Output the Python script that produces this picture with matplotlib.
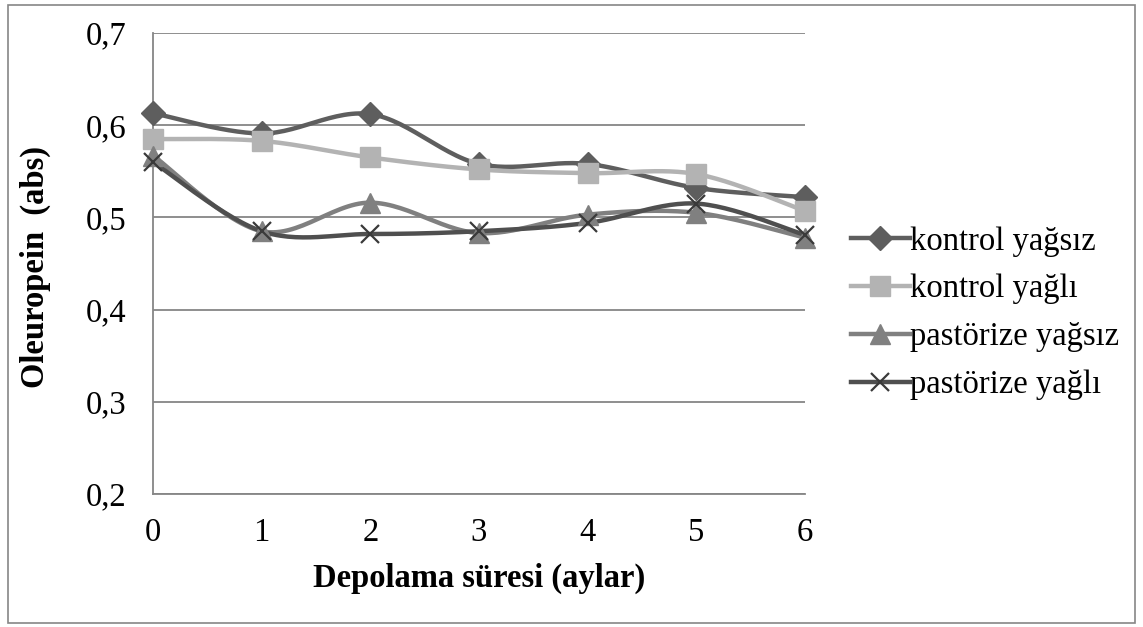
import numpy as np
import matplotlib
matplotlib.use("Agg")
import matplotlib.pyplot as plt
from matplotlib.lines import Line2D
from matplotlib.patches import Rectangle

plt.rcParams['font.family'] = ['Liberation Serif', 'DejaVu Serif']

months = [0, 1, 2, 3, 4, 5, 6]
kontrol_yagsiz = [0.613, 0.591, 0.612, 0.558, 0.558, 0.532, 0.522]
kontrol_yagli = [0.585, 0.583, 0.565, 0.552, 0.548, 0.547, 0.507]
pastorize_yagsiz = [0.567, 0.485, 0.516, 0.483, 0.503, 0.505, 0.478]
pastorize_yagli = [0.560, 0.485, 0.482, 0.485, 0.494, 0.515, 0.481]
series_names = ["kontrol yağsız", "kontrol yağlı", "pastörize yağsız", "pastörize yağlı"]
yticks = [0.2, 0.3, 0.4, 0.5, 0.6, 0.7]
ytick_labels = ["0,2", "0,3", "0,4", "0,5", "0,6", "0,7"]

colors = ["#5e5e5e", "#b3b3b3", "#808080", "#4f4f4f"]
markers = ["D", "s", "^", "x"]
msizes = [12.5, 14, 14, 13]
FS = 23.5


def smooth(x, y, n=30):
    x = np.asarray(x, float)
    y = np.asarray(y, float)
    pts = np.column_stack([x, y])
    out = []
    for i in range(len(pts) - 1):
        p0 = pts[i - 1] if i > 0 else pts[i]
        p1 = pts[i]
        p2 = pts[i + 1]
        p3 = pts[i + 2] if i + 2 < len(pts) else pts[i + 1]
        c1 = p1 + (p2 - p0) / 6.0
        c2 = p2 - (p3 - p1) / 6.0
        t = np.linspace(0, 1, n)[:, None]
        seg = ((1 - t) ** 3) * p1 + 3 * ((1 - t) ** 2) * t * c1 + 3 * (1 - t) * t ** 2 * c2 + t ** 3 * p2
        if i > 0:
            seg = seg[1:]
        out.append(seg)
    out = np.vstack(out)
    return out[:, 0], out[:, 1]


fig = plt.figure(figsize=(11.43, 6.27), dpi=100)
fig.patches.append(Rectangle((8 / 1143, 4 / 627), 1127 / 1143, 618 / 627,
                             transform=fig.transFigure, fill=False,
                             edgecolor="#868686", linewidth=1.2))
ax = fig.add_axes([153 / 1143, 1 - 494 / 627, (805 - 153) / 1143, (494 - 33) / 627])

data = [kontrol_yagsiz, kontrol_yagli, pastorize_yagsiz, pastorize_yagli]
handles = []
for vals, c, m, ms, name in zip(data, colors, markers, msizes, series_names):
    sx, sy = smooth(months, vals)
    ax.plot(sx, sy, color=c, lw=3.2, solid_capstyle="round", zorder=3, clip_on=False)
    if m == "x":
        ax.plot(months, vals, linestyle="none", marker=m, ms=ms, mew=1.6,
                color="#3a3a3a", zorder=4, clip_on=False)
        h = Line2D([], [], color=c, lw=3.2, marker=m, ms=ms, mew=1.6,
                   markeredgecolor="#3a3a3a")
    else:
        ax.plot(months, vals, linestyle="none", marker=m, ms=ms, color=c,
                markeredgecolor=c, zorder=4, clip_on=False)
        h = Line2D([], [], color=c, lw=3.2, marker=m, ms=ms, markeredgecolor=c)
    handles.append(h)

ax.set_xlim(0, 6)
ax.set_ylim(0.2, 0.7)
ax.set_xticks(months)
ax.set_xticklabels([str(m) for m in months])
ax.set_yticks(yticks)
ax.set_yticklabels(ytick_labels)
ax.tick_params(axis="both", length=0, labelsize=FS)
ax.tick_params(axis="x", pad=17)
ax.tick_params(axis="y", pad=19)
ax.grid(axis="y", color="#868686", lw=1.3)
ax.set_axisbelow(True)
for s in ["top", "right"]:
    ax.spines[s].set_visible(False)
for s in ["left", "bottom"]:
    ax.spines[s].set_color("#868686")
    ax.spines[s].set_linewidth(1.3)

ax.set_xlabel("Depolama süresi (aylar)", fontsize=FS, fontweight="bold")
ax.xaxis.set_label_coords(0.5, -(578 - 494) / 461, transform=ax.transAxes)
ax.xaxis.label.set_va("center")
ax.set_ylabel("Oleuropein  (abs)", fontsize=FS, fontweight="bold")
ax.yaxis.set_label_coords(-(153 - 35) / 652, 1 - (267 - 33) / 461, transform=ax.transAxes)
ax.yaxis.label.set_va("center")

fig.legend(handles, series_names, loc="center left",
           bbox_to_anchor=(851 / 1143, 1 - 313 / 627), frameon=False,
           fontsize=FS, handlelength=1.8, handletextpad=0.0,
           labelspacing=0.53, borderaxespad=0, borderpad=0)

fig.savefig("out.png", dpi=100)
